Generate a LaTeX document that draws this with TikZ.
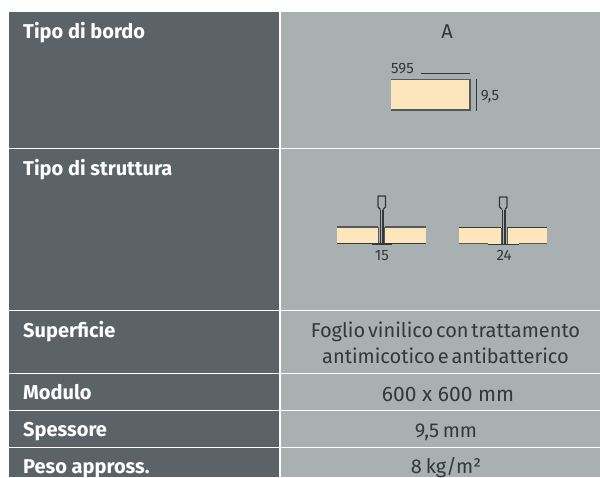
\documentclass[tikz,border=0pt]{standalone}
\usepackage{fontspec}
\setmainfont{Fira Sans}
\definecolor{darkcell}{HTML}{5C6367}
\definecolor{lightcell}{HTML}{A9B0B1}
\definecolor{panelfill}{HTML}{FDE5BC}
\definecolor{inkc}{HTML}{33383B}
\definecolor{edgec}{HTML}{55595A}
\tikzset{
  x=1pt,y=-1pt,
  labelcell/.style={fill=darkcell,draw=none},
  valuecell/.style={fill=lightcell,draw=none},
  headtext/.style={text=white,font=\fontsize{20}{24}\selectfont\bfseries,anchor=base west,inner sep=0pt},
  valtext/.style={text=inkc,font=\fontsize{20}{26}\selectfont,anchor=base,inner sep=0pt},
  dimtext/.style={text=inkc,font=\fontsize{15}{17}\selectfont,anchor=base,inner sep=0pt},
  panel/.style={fill=panelfill,draw=none},
  panelline/.style={draw=inkc,line width=1pt},
  softline/.style={draw=edgec,line width=1.2pt},
  railline/.style={draw=inkc,line width=1.2pt},
  dimline/.style={draw=inkc,line width=.8pt}
}
\begin{document}
\begin{tikzpicture}
\useasboundingbox (0,0) rectangle (600,477);
% Cells
\fill[labelcell] (8.5,12) rectangle (279.4,147.9);
\fill[labelcell] (8.5,148.9) rectangle (279.4,309.6);
\fill[labelcell] (8.5,310.6) rectangle (279.4,373.4);
\fill[labelcell] (8.5,374.4) rectangle (279.4,410.4);
\fill[labelcell] (8.5,411.4) rectangle (279.4,447.4);
\fill[labelcell] (8.5,448.4) rectangle (279.4,477);
\fill[valuecell] (280.6,12) rectangle (600,147.9);
\fill[valuecell] (280.6,148.9) rectangle (600,309.6);
\fill[valuecell] (280.6,310.6) rectangle (600,373.4);
\fill[valuecell] (280.6,374.4) rectangle (600,410.4);
\fill[valuecell] (280.6,411.4) rectangle (600,447.4);
\fill[valuecell] (280.6,448.4) rectangle (600,477);
% Left labels
\node[headtext] (h1) at (23,38) {Tipo di bordo};
\node[headtext] (h2) at (23,175) {Tipo di struttura};
\node[headtext] (h3) at (23,337) {Superficie};
\node[headtext] (h4) at (23,399) {Modulo};
\node[headtext] (h5) at (23,436) {Spessore};
\node[headtext] (h6) at (23,473) {Peso appross.};
% Right values
\node[valtext] (v1) at (447,38) {A};
\node[valtext] (v3a) at (445.5,337) {\spaceskip=.14em Foglio vinilico con trattamento};
\node[valtext] (v3b) at (445.5,363) {\spaceskip=.14em antimicotico e antibatterico};
\node[valtext,font=\fontsize{21}{26}\selectfont] (v4) at (448,401) {600 x 600 mm};
\node[valtext] (v5) at (446,437) {\spaceskip=.18em 9,5 mm};
\node[valtext] (v6) at (446,473) {\spaceskip=.2em 8 kg/m²};
% Edge panel
\fill[panel] (391,79.5) rectangle (470,110);
\draw[softline] (391,79.5) -- (470,79.5) -- (470,110) -- (391,110);
\node[dimtext] (d595) at (402.5,73) {595};
\node[dimtext] (d95) at (490,100) {9,5};
\draw[dimline] (421,73) -- (470,73);
\draw[dimline] (476,79) -- (476,111);
% Structure 15
\fill[panel] (337,227) rectangle (378,243.5);
\fill[panel] (385,227) rectangle (426,243.5);
\draw[softline] (337,227) -- (378,227) (385,227) -- (426,227);
\draw[panelline] (337,243.5) -- (372,243.5) (391,243.5) -- (426,243.5);
\draw[softline,line width=.9pt] (378.5,227) -- (378.5,243.5) (384.5,227) -- (384.5,243.5);
\draw[railline,line width=1.6pt] (371.5,244.2) -- (392,244.2);
\draw[railline] (380.5,243.5) -- (380.5,209.5) (383,243.5) -- (383,209.5);
\draw[railline,line join=round] (380.5,209.5) -- (378,207) -- (378,196) -- (385.5,196) -- (385.5,207) -- (383,209.5);
\node[dimtext] (d15) at (382,260) {15};
% Structure 24
\fill[panel] (459,227.5) rectangle (501,243.5);
\fill[panel] (507,227.5) rectangle (547,243.5);
\draw[panelline] (459,227.5) -- (501,227.5) (507,227.5) -- (547,227.5);
\draw[softline] (459,243.7) -- (488,243.7) (519,243.7) -- (547,243.7);
\draw[softline,line width=.9pt] (501.5,227.5) -- (501.5,243.5) (507,227.5) -- (507,243.5);
\draw[railline,line width=1.6pt] (488,244.5) -- (519,244.5);
\draw[railline] (502.2,243.5) -- (502.2,209.5) (505,243.5) -- (505,209.5);
\draw[railline,line join=round] (502.2,209.5) -- (499.5,207) -- (499.5,197) -- (507,197) -- (507,207) -- (505,209.5);
\node[dimtext] (d24) at (504,260) {24};
\end{tikzpicture}
\end{document}
